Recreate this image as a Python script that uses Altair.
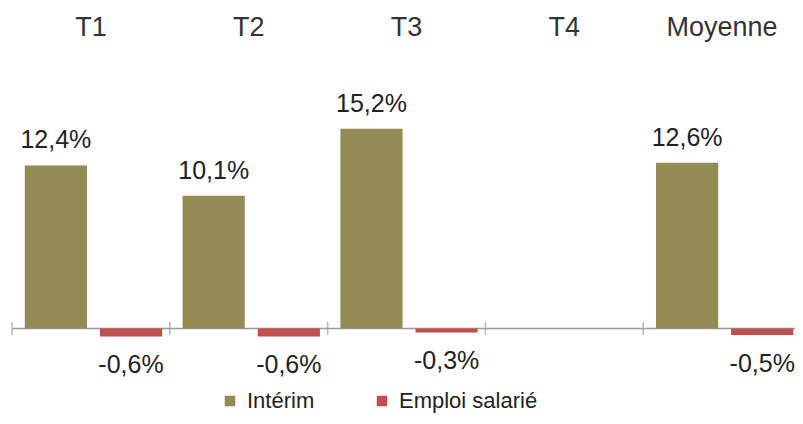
import altair as alt
import pandas as pd

categories = ["T1", "T2", "T3", "T4", "Moyenne"]
series = ["Intérim", "Emploi salarié"]
interim = [12.4, 10.1, 15.2, None, 12.6]
emploi = [-0.6, -0.6, -0.3, None, -0.5]
colors = ["#948A54", "#C0504D"]

rows = []
for c, a, b in zip(categories, interim, emploi):
    for s, v in ((series[0], a), (series[1], b)):
        rows.append({
            "cat": c, "serie": s, "val": v,
            "label": "" if v is None else f"{v:.1f}%".replace(".", ","),
        })
df = pd.DataFrame(rows)
cat_df = pd.DataFrame({"cat": categories, "val": [0] * len(categories)})
zero_df = pd.DataFrame({"val": [0]})

FONT = "Liberation Sans"
TXT = "#222222"
W = 789

x_scale = alt.Scale(domain=categories, paddingInner=0, paddingOuter=0)
x_axis = alt.Axis(orient="top", title=None, domain=False, ticks=False,
                  labelAngle=0, labelFont=FONT, labelFontSize=27,
                  labelColor="#333333", labelBaseline="alphabetic",
                  labelPadding=15)
x_enc = alt.X("cat:N", sort=categories, scale=x_scale, axis=x_axis)
xoff = alt.XOffset(
    "serie:N", sort=series,
    scale=alt.Scale(domain=series, paddingInner=0.172, paddingOuter=0.136, align=0.625),
)
y_scale = alt.Scale(domain=[-1.255, 21.18], nice=False, zero=False)
y_enc = alt.Y("val:Q", scale=y_scale, axis=None)

bars = alt.Chart(df).mark_bar().encode(
    x=x_enc, xOffset=xoff, y=y_enc,
    color=alt.Color(
        "serie:N", sort=series,
        scale=alt.Scale(domain=series, range=colors),
        legend=alt.Legend(
            orient="none", legendX=207, legendY=340, direction="horizontal",
            title=None, symbolType="square", symbolSize=110,
            symbolStrokeWidth=0, labelFont=FONT, labelFontSize=22,
            labelColor=TXT, columnPadding=56, labelOffset=6,
        ),
    ),
)

pos_labels = alt.Chart(df).transform_filter(
    alt.datum.serie == series[0]
).mark_text(baseline="alphabetic", dy=-17, font=FONT, fontSize=25, color=TXT).encode(
    x=x_enc, xOffset=xoff, y=y_enc, text="label:N",
)

neg_labels = alt.Chart(df).transform_filter(
    alt.datum.serie == series[1]
).mark_text(baseline="alphabetic", dy=37, font=FONT, fontSize=25, color=TXT).encode(
    x=x_enc, xOffset=xoff, y=y_enc, text="label:N",
)

axis_line = alt.Chart(zero_df).mark_rule(color="#9a9a9a", strokeWidth=1.5).encode(
    y=y_enc, x=alt.value(0), x2=alt.value(W),
)

ticks = alt.Chart(cat_df).mark_tick(
    color="#9a9a9a", thickness=1.5, size=13, orient="vertical"
).encode(
    x=alt.X("cat:N", sort=categories, bandPosition=0, scale=x_scale, axis=x_axis),
    y=y_enc,
)

chart = alt.layer(axis_line, ticks, bars, pos_labels, neg_labels).properties(
    width=W, height=295,
    autosize=alt.AutoSizeParams(type="none"),
    padding={"left": 4, "top": 42, "right": -6, "bottom": 71},
).configure_view(stroke=None)

chart.save("out.html", embed_options={"renderer": "svg", "actions": False})
